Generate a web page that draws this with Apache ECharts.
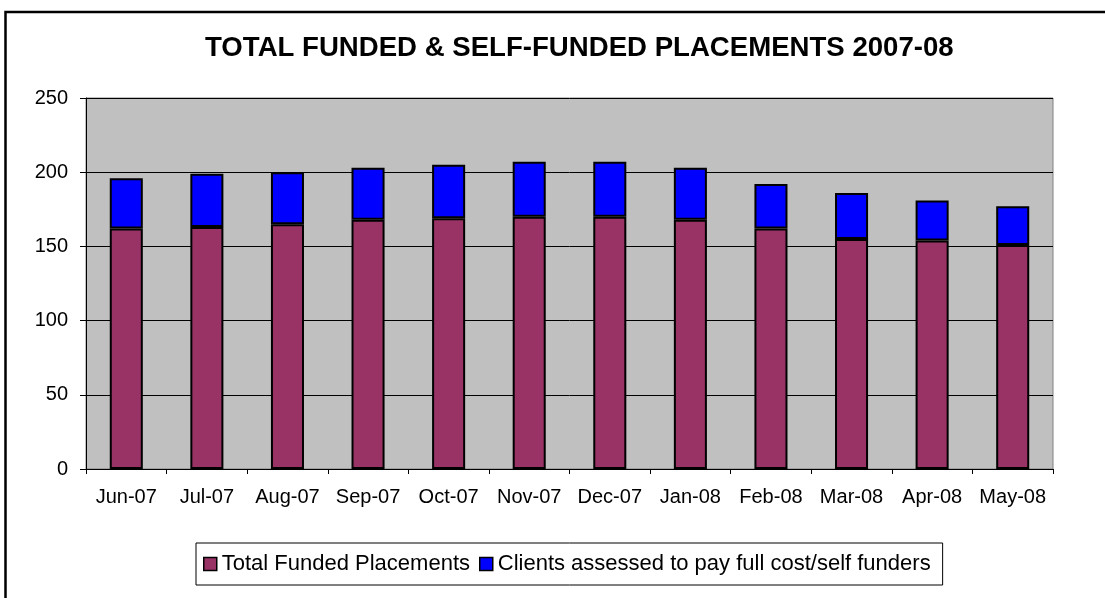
<!DOCTYPE html>
<html>
<head>
<meta charset="utf-8">
<script src="https://cdn.jsdelivr.net/npm/echarts@6/dist/echarts.min.js"></script>
<style>
html,body{margin:0;padding:0;background:#fff;}
#chart{width:1105px;height:598px;}
</style>
</head>
<body>
<div id="chart"></div>
<script>
var months = ['Jun-07','Jul-07','Aug-07','Sep-07','Oct-07','Nov-07','Dec-07','Jan-08','Feb-08','Mar-08','Apr-08','May-08'];
var fundedPlacements = [162, 163, 165, 168, 169, 170, 170, 168, 162, 155, 154, 151];
var selfFunders = [34, 36, 35, 35, 36, 37, 37, 35, 30, 31, 27, 26];
var yTicks = [0, 50, 100, 150, 200, 250];

var chartObj = echarts.init(document.getElementById('chart'));
var fontFamily = 'Liberation Sans, Arial, sans-serif';

var option = {
	animation: false,
	backgroundColor: '#fff',
	title: {
		text: 'TOTAL FUNDED & SELF-FUNDED PLACEMENTS 2007-08',
		left: 200,
		top: 29,
		textStyle: {
			fontFamily: fontFamily,
			fontSize: 27.6,
			fontWeight: 'bold',
			color: '#000'
		}
	},
	legend: {
		left: 196,
		top: 543,
		padding: [10, 12, 10, 7],
		itemGap: 9,
		itemWidth: 13,
		itemHeight: 13,
		borderColor: '#000',
		borderWidth: 1,
		icon: 'rect',
		itemStyle: {borderColor: '#000', borderWidth: 1.5},
		textStyle: {fontFamily: fontFamily, fontSize: 22, color: '#000'},
		data: ['Total Funded Placements', 'Clients assessed to pay full cost/self funders']
	},
	grid: {
		left: 86,
		right: 52,
		top: 98,
		bottom: 129,
		show: true,
		backgroundColor: '#c0c0c0',
		borderColor: '#808080',
		borderWidth: 1
	},
	xAxis: {
		type: 'category',
		data: months,
		axisLine: {lineStyle: {color: '#000', width: 1}},
		axisTick: {show: true, length: 5, lineStyle: {color: '#000'}},
		axisLabel: {
			fontFamily: fontFamily,
			fontSize: 20,
			color: '#000',
			margin: 18,
			interval: 0
		}
	},
	yAxis: {
		type: 'value',
		min: yTicks[0],
		max: yTicks[yTicks.length - 1],
		interval: 50,
		axisLine: {show: true, lineStyle: {color: '#000', width: 1}},
		axisTick: {show: true, length: 6, lineStyle: {color: '#000'}},
		axisLabel: {
			fontFamily: fontFamily,
			fontSize: 20,
			color: '#000',
			margin: 18
		},
		splitLine: {lineStyle: {color: '#000', width: 1}}
	},
	series: [
		{
			name: 'Total Funded Placements',
			type: 'bar',
			stack: 'total',
			barWidth: '41%',
			itemStyle: {color: '#993366', borderColor: '#000', borderWidth: 2},
			data: fundedPlacements
		},
		{
			name: 'Clients assessed to pay full cost/self funders',
			type: 'bar',
			stack: 'total',
			barWidth: '41%',
			itemStyle: {color: '#0000ff', borderColor: '#000', borderWidth: 2},
			data: selfFunders
		}
	],
	graphic: [
		{
			type: 'rect',
			silent: true,
			shape: {x: 5.5, y: 12, width: 1200, height: 700},
			style: {fill: 'none', stroke: '#000', lineWidth: 2.5}
		}
	]
};
chartObj.setOption(option);
</script>
</body>
</html>
